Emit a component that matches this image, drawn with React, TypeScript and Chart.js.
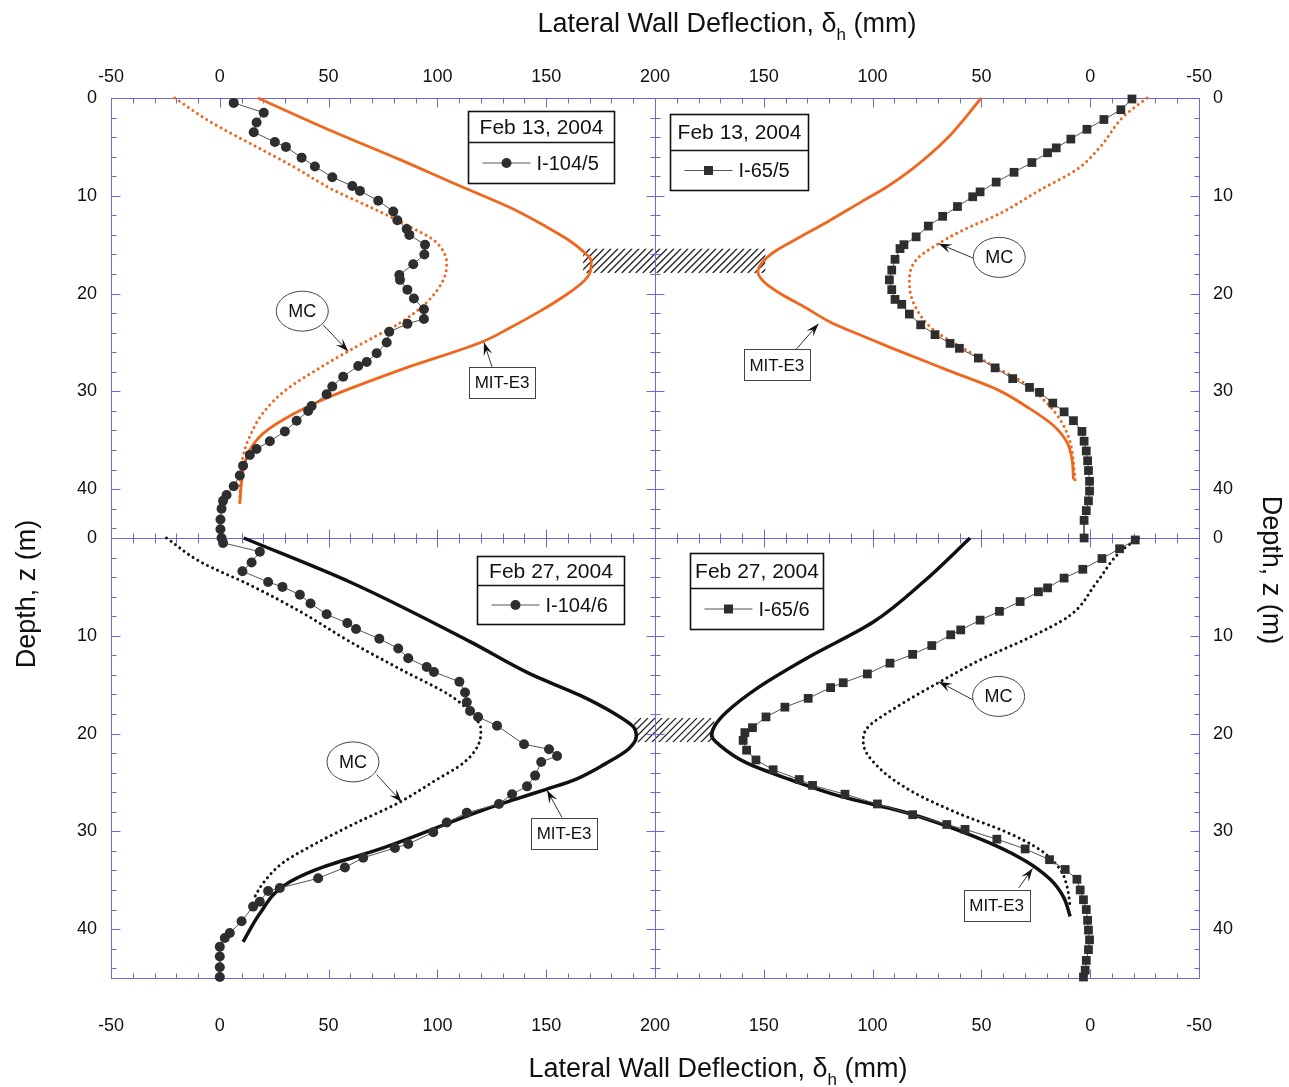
import React, { useEffect, useRef } from "react";
import { Chart, registerables } from "chart.js";
Chart.register(...registerables);

// ---------- axis ticks ----------
const X_TICK_VALUES = [-50, 0, 50, 100, 150, 200, 250, 300, 350, 400, 450];
const X_TICK_LABELS = ["-50", "0", "50", "100", "150", "200", "150", "100", "50", "0", "-50"];
const Y_TICK_VALUES = [0, 10, 20, 30, 40, 45, 55, 65, 75, 85];
const Y_TICK_LABELS = ["0", "10", "20", "30", "40", "0", "10", "20", "30", "40"];

// ---------- Feb 13, 2004 – I-104/5 (left, top) ----------
const I104_5_z = [0.5, 1.5, 2.5, 3.5, 4.5, 5.0, 6.1, 7.0, 8.1, 9.0, 9.5, 10.5, 11.6, 12.5, 13.4, 14.0, 15.0, 16.0, 17.0, 18.1, 18.6, 19.6, 20.5, 21.6, 22.6, 23.1, 23.9, 25.0, 26.1, 27.0, 27.4, 28.5, 29.5, 30.3, 31.5, 32.0, 33.0, 34.1, 35.1, 35.9, 36.5, 37.6, 38.6, 39.7, 40.6, 41.2, 42.0, 43.1, 44.1, 45.0];
const I104_5_d = [6.4, 20.2, 16.9, 15.6, 25.3, 30.4, 37.6, 43.7, 51.7, 60.9, 64.4, 72.8, 79.7, 81.6, 85.9, 87.1, 94.3, 94.0, 88.9, 82.5, 82.8, 86.2, 89.2, 93.8, 93.8, 86.2, 77.9, 76.7, 72.1, 67.5, 63.6, 56.7, 51.7, 49.1, 42.2, 40.6, 35.3, 29.9, 23.0, 16.9, 13.8, 10.7, 9.2, 6.4, 3.1, 1.5, 0.8, 0.3, 0.3, 0.8];
const MC_TL_z = [0, 2.4, 5.0, 7.0, 9.4, 11.3, 13.0, 14.5, 15.8, 16.9, 18.6, 20.9, 23.0, 24.5, 25.9, 27.8, 29.8, 32.2, 34.6, 36.6, 38.6, 41.5];
const MC_TL_d = [-20.7, -4.6, 16.9, 33.7, 52.1, 70.5, 85.9, 98.1, 103.0, 104.3, 102.7, 95.1, 82.8, 70.5, 59.0, 44.5, 30.7, 19.9, 13.8, 10.7, 9.5, 9.2];
const MIT_TL_z = [0, 3.3, 6.3, 9.0, 11.2, 13.1, 14.5, 15.7, 16.7, 17.8, 18.9, 20.2, 21.8, 23.5, 24.9, 27.8, 30.6, 32.3, 34.2, 35.7, 37.3, 39.3, 41.5];
const MIT_TL_d = [17.5, 50.6, 82.8, 110.4, 133.4, 149.5, 160.1, 167.0, 170.7, 170.2, 166.5, 158.7, 147.2, 133.4, 121.0, 83.0, 50.0, 34.0, 20.5, 14.6, 11.5, 10.0, 9.2];

// ---------- Feb 13, 2004 – I-65/5 (right, top) ----------
const I65_5_z = [0.1, 1.2, 2.2, 3.2, 4.2, 5.1, 5.6, 6.6, 7.6, 8.6, 9.6, 10.1, 11.1, 12.1, 13.1, 14.2, 15.0, 15.4, 16.5, 17.6, 18.6, 19.6, 20.6, 21.1, 22.1, 23.2, 24.2, 25.1, 25.6, 26.6, 27.6, 28.7, 29.6, 30.1, 31.2, 32.1, 33.0, 34.1, 35.1, 36.1, 37.1, 38.1, 39.2, 40.2, 41.2, 42.2, 43.2, 45.0];
const I65_5_d = [-19.2, -14.1, -6.3, 1.5, 8.9, 15.6, 19.6, 26.8, 35.0, 43.2, 50.6, 54.0, 61.0, 67.8, 74.4, 80.0, 85.6, 87.4, 89.7, 91.2, 92.3, 91.2, 89.7, 86.6, 83.1, 77.9, 71.3, 64.4, 60.1, 51.4, 43.7, 35.6, 27.9, 23.3, 17.2, 12.0, 7.7, 3.8, 2.8, 1.8, 1.2, 0.8, 0.3, 0.3, 0.8, 1.8, 2.8, 2.8];
const MC_TR_z = [0, 1.9, 5.0, 7.3, 9.4, 11.8, 13.5, 15.0, 16.5, 18.6, 20.9, 23.7, 25.4, 27.4, 29.1, 31.2, 33.2, 35.2, 37.3, 39.2];
const MC_TR_d = [-26.1, -15.3, -4.6, 6.1, 23.0, 41.4, 58.3, 70.5, 79.7, 83.1, 81.3, 72.1, 59.8, 44.5, 30.7, 19.9, 13.0, 9.2, 7.7, 6.9];
const MIT_TR_z = [0, 4.3, 7.3, 9.1, 10.6, 12.7, 14.3, 15.7, 16.9, 17.8, 18.9, 20.1, 21.4, 22.9, 24.4, 25.5, 27.8, 29.8, 31.8, 33.5, 35.2, 36.9, 39.0];
const MIT_TR_d = [50.0, 66.5, 82.0, 93.5, 105.0, 121.0, 134.0, 145.0, 151.0, 152.7, 149.5, 141.7, 131.1, 119.6, 104.0, 92.0, 65.9, 42.9, 27.6, 16.9, 10.7, 8.4, 7.7];

// ---------- Feb 27, 2004 – I-104/6 (left, bottom) ----------
const I104_6_z = [0.5, 1.4, 2.5, 3.4, 4.5, 5.0, 5.8, 6.7, 7.8, 8.7, 9.3, 10.3, 11.3, 12.3, 13.2, 13.7, 14.7, 15.8, 16.8, 17.7, 18.3, 19.2, 21.1, 21.6, 22.3, 22.9, 24.3, 25.4, 26.2, 27.2, 28.1, 29.1, 30.1, 31.3, 31.7, 32.7, 33.7, 34.8, 35.8, 36.1, 37.2, 37.7, 39.2, 40.4, 40.9, 41.8, 42.8, 43.9, 44.9];
const I104_6_d = [1.5, 18.4, 14.6, 10.4, 22.2, 28.8, 36.8, 41.7, 49.1, 58.6, 62.6, 73.3, 82.0, 86.6, 95.1, 98.4, 110.1, 112.7, 113.5, 115.0, 118.7, 127.4, 139.8, 151.3, 155.0, 147.7, 144.9, 141.2, 134.3, 128.3, 113.5, 104.3, 98.1, 86.6, 80.5, 65.9, 57.5, 45.2, 27.6, 22.2, 18.4, 15.3, 10.0, 4.6, 2.3, 0, 0, 0, 0];
const MC_BL_z = [0, 2.4, 4.8, 7.5, 10.6, 13.4, 16.1, 17.8, 19.6, 21.3, 23.0, 24.8, 27.1, 29.1, 31.2, 33.2, 35.3, 37.0];
const MC_BL_d = [-24.5, -9.2, 13.8, 36.8, 59.8, 82.8, 105.8, 115.0, 120.0, 118.5, 112.0, 99.0, 82.0, 63.0, 44.5, 29.1, 19.9, 15.3];
const MIT_BL_z = [0, 4.5, 10.6, 13.9, 16.1, 18.0, 19.3, 20.3, 21.6, 23.1, 24.7, 25.7, 26.7, 27.9, 31.7, 33.9, 35.6, 38.4, 41.3];
const MIT_BL_d = [11.0, 59.8, 115.0, 142.6, 165.6, 181.7, 190.0, 191.4, 187.7, 177.1, 163.3, 150.0, 136.0, 120.0, 75.1, 44.5, 29.1, 18.4, 10.7];

// ---------- Feb 27, 2004 – I-65/6 (right, bottom) ----------
const I65_6_z = [0.2, 1.1, 2.1, 3.2, 4.1, 5.1, 5.5, 6.5, 7.5, 8.4, 9.4, 9.9, 11.0, 11.9, 12.8, 13.9, 14.8, 15.3, 16.4, 17.3, 18.3, 19.4, 19.9, 20.7, 21.7, 22.7, 23.7, 24.7, 25.3, 26.2, 27.2, 28.3, 29.3, 29.8, 30.8, 31.8, 32.9, 33.9, 34.9, 36.0, 37.0, 38.0, 39.1, 40.1, 41.1, 42.1, 43.2, 44.2, 44.9];
const I65_6_d = [-20.7, -13.5, -5.4, 3.4, 12.0, 19.6, 23.8, 32.2, 41.7, 50.6, 59.5, 64.1, 72.8, 81.6, 92.0, 102.4, 113.5, 119.3, 129.6, 140.3, 149.0, 155.2, 158.7, 159.5, 157.9, 153.6, 145.7, 133.7, 127.6, 112.7, 97.8, 81.6, 65.9, 57.5, 42.9, 29.9, 18.7, 11.5, 6.1, 4.6, 3.1, 1.8, 1.2, 0.8, 0.3, 0.8, 1.8, 2.3, 3.1];
const MC_BR_z = [0, 1.4, 4.5, 7.9, 10.3, 12.3, 14.7, 17.5, 19.5, 20.9, 23.6, 26.0, 28.1, 30.1, 31.9, 33.9, 35.6, 37.7];
const MC_BR_d = [-22.2, -13.8, -3.1, 9.2, 29.1, 49.1, 69.0, 90.5, 102.7, 104.3, 96.6, 81.3, 61.3, 38.3, 23.0, 13.8, 10.7, 9.2];
const MIT_BR_z = [0, 4.5, 8.6, 12.3, 15.4, 17.8, 19.2, 20.2, 21.2, 23.0, 24.7, 26.4, 28.1, 30.5, 32.9, 34.9, 36.7, 38.7];
const MIT_BR_d = [55.2, 76.7, 99.7, 130.3, 153.3, 167.1, 172.5, 174.0, 170.2, 157.9, 138.0, 115.0, 84.3, 53.7, 30.7, 18.4, 12.3, 9.2];

// ---------- excavation level hatch (u = combined x, v = combined depth) ----------
const HATCH_U0 = [167, 190.4];
const HATCH_U1 = [250.7, 227.2];
const HATCH_V0 = [15.4, 63.4];
const HATCH_V1 = [17.9, 65.9];

// panel frame split
const SPLIT_U = 200;
const SPLIT_V = 45;

const FONT = "'Liberation Sans', Arial, Helvetica, sans-serif";
const FRAME = "#6a6ad4";
const ORANGE = "#f0661c";

// maps a panel value to the combined plot coordinates
function pts(d: number[], z: number[], right: boolean, bottom: boolean) {
  return d.map((dv, i) => ({ x: right ? 2 * SPLIT_U - dv : dv, y: z[i] + (bottom ? SPLIT_V : 0) }));
}

function obsSet(data: any, style: string) {
  return {
    data, indexAxis: "y", borderColor: "#555", borderWidth: 1, backgroundColor: "#2e2e2e",
    pointBackgroundColor: "#2e2e2e", pointBorderColor: "#2e2e2e", pointBorderWidth: 0,
    pointStyle: style, pointRadius: style === "rect" ? 6.2 : 5, tension: 0, clip: false, order: 1, fill: false,
  };
}
function mcSet(data: any, color: string) {
  return {
    data, indexAxis: "y", borderColor: color, borderWidth: 3, borderDash: [0.01, 5.5],
    borderCapStyle: "round", pointRadius: 0, cubicInterpolationMode: "monotone", clip: false, order: 2, fill: false,
  };
}
function mitSet(data: any, color: string, w: number) {
  return {
    data, indexAxis: "y", borderColor: color, borderWidth: w, pointRadius: 0,
    cubicInterpolationMode: "monotone", clip: false, order: 3, fill: false,
  };
}

// annotation placements (combined coords)
const MC_NOTES = [
  { u: 37.9, v: 21.8, fu: 47.5, fv: 23.2, tu: 59.0, tv: 25.9 },
  { u: 358.2, v: 16.3, fu: 346.5, fv: 16.4, tu: 330.4, tv: 14.9 },
  { u: 61.2, v: 67.9, fu: 72.1, fv: 69.2, tu: 83.6, tv: 72.0 },
  { u: 357.9, v: 61.2, fu: 346.5, fv: 61.6, tu: 330.4, tv: 59.7 },
];
const MIT_NOTES = [
  { u: 129.7, v: 29.1, fu: 125.1, fv: 27.5, tu: 121.4, tv: 25.0 },
  { u: 256.0, v: 27.3, fu: 264.5, fv: 25.8, tu: 275.1, tv: 23.1 },
  { u: 158.2, v: 75.2, fu: 157.3, fv: 73.6, tu: 150.4, tv: 70.8 },
  { u: 357.0, v: 82.6, fu: 367.1, fv: 80.8, tu: 373.5, tv: 78.8 },
];
const LEGEND_TITLES = ["Feb 13, 2004", "Feb 13, 2004", "Feb 27, 2004", "Feb 27, 2004"];
const LEGEND_ITEMS = ["I-104/5", "I-65/5", "I-104/6", "I-65/6"];
const LEGEND_BOX = [
  { u: 114.1, v: 1.33, w: 146, h: 72, hh: 31, marker: "circle" },
  { u: 207.0, v: 1.64, w: 138, h: 76, hh: 36, marker: "rect" },
  { u: 118.2, v: 46.8, w: 147, h: 68, hh: 29, marker: "circle" },
  { u: 216.2, v: 46.5, w: 133, h: 76, hh: 35, marker: "rect" },
];

function seg(ctx: CanvasRenderingContext2D, x0: number, y0: number, x1: number, y1: number) {
  ctx.beginPath(); ctx.moveTo(x0, y0); ctx.lineTo(x1, y1); ctx.stroke();
}
function arrow(ctx: CanvasRenderingContext2D, x0: number, y0: number, x1: number, y1: number) {
  ctx.strokeStyle = "#333"; ctx.lineWidth = 1;
  seg(ctx, x0, y0, x1, y1);
  const a = Math.atan2(y1 - y0, x1 - x0);
  const L = 13, W = 4.5;
  ctx.fillStyle = "#111";
  ctx.beginPath();
  ctx.moveTo(x1, y1);
  ctx.lineTo(x1 - L * Math.cos(a) + W * Math.sin(a), y1 - L * Math.sin(a) - W * Math.cos(a));
  ctx.lineTo(x1 - 0.6 * L * Math.cos(a), y1 - 0.6 * L * Math.sin(a));
  ctx.lineTo(x1 - L * Math.cos(a) - W * Math.sin(a), y1 - L * Math.sin(a) + W * Math.cos(a));
  ctx.closePath(); ctx.fill();
}

const framePlugin = {
  id: "frameAndHatch",
  beforeDatasetsDraw(chart: any) {
    const ctx: CanvasRenderingContext2D = chart.ctx;
    const xs = chart.scales.x, ys = chart.scales.y;
    const { left, right, top, bottom } = chart.chartArea;
    const r = (p: number) => Math.round(p) + 0.5;
    const midX = r(xs.getPixelForValue(SPLIT_U));
    const midY = r(ys.getPixelForValue(SPLIT_V));
    ctx.save();
    for (let k = 0; k < HATCH_U0.length; k++) {
      const x0 = xs.getPixelForValue(HATCH_U0[k]), x1 = xs.getPixelForValue(HATCH_U1[k]);
      const y0 = ys.getPixelForValue(HATCH_V0[k]), y1 = ys.getPixelForValue(HATCH_V1[k]);
      ctx.save();
      ctx.beginPath(); ctx.rect(x0, y0, x1 - x0, y1 - y0); ctx.clip();
      ctx.strokeStyle = "#222"; ctx.lineWidth = 1.3;
      const h = y1 - y0;
      for (let x = x0 - h; x < x1 + h; x += 7) seg(ctx, x, y1, x + h, y0);
      ctx.restore();
    }
    ctx.strokeStyle = FRAME; ctx.lineWidth = 1;
    const L0 = r(left), R0 = r(right), T0 = r(top), B0 = r(bottom);
    ctx.strokeRect(L0, T0, R0 - L0, B0 - T0);
    seg(ctx, midX, T0, midX, B0);
    seg(ctx, L0, midY, R0, midY);
    for (let u = -50; u <= 450; u += 10) {
      const px = r(xs.getPixelForValue(u));
      const L = (u + 50) % 50 === 0 ? 9 : 5;
      seg(ctx, px, T0, px, T0 + L);
      seg(ctx, px, B0, px, B0 - L);
      seg(ctx, px, midY - L, px, midY + L);
    }
    for (const base of [0, SPLIT_V]) {
      for (let z = 0; z <= 44; z += 2) {
        const py = r(ys.getPixelForValue(base + z));
        const L = z % 10 === 0 ? 9 : 5;
        seg(ctx, L0, py, L0 + L, py);
        seg(ctx, R0 - L, py, R0, py);
        seg(ctx, midX - L, py, midX + L, py);
      }
    }
    ctx.restore();
  },
  afterDatasetsDraw(chart: any) {
    const ctx: CanvasRenderingContext2D = chart.ctx;
    const xs = chart.scales.x, ys = chart.scales.y;
    const X = (u: number) => xs.getPixelForValue(u);
    const Y = (v: number) => ys.getPixelForValue(v);
    ctx.save();
    ctx.textAlign = "center"; ctx.textBaseline = "middle";
    for (const n of MC_NOTES) {
      arrow(ctx, X(n.fu), Y(n.fv), X(n.tu), Y(n.tv));
      ctx.beginPath(); ctx.ellipse(X(n.u), Y(n.v), 26, 20, 0, 0, Math.PI * 2);
      ctx.fillStyle = "#fff"; ctx.fill();
      ctx.strokeStyle = "#444"; ctx.lineWidth = 1; ctx.stroke();
      ctx.fillStyle = "#111"; ctx.font = `18px ${FONT}`;
      ctx.fillText("MC", X(n.u), Y(n.v) + 1);
    }
    for (const n of MIT_NOTES) {
      arrow(ctx, X(n.fu), Y(n.fv), X(n.tu), Y(n.tv));
      const cx = X(n.u), cy = Y(n.v);
      ctx.fillStyle = "#fff"; ctx.fillRect(cx - 33, cy - 15.5, 66, 31);
      ctx.strokeStyle = "#444"; ctx.lineWidth = 1; ctx.strokeRect(Math.round(cx - 33) + 0.5, Math.round(cy - 15.5) + 0.5, 66, 31);
      ctx.fillStyle = "#111"; ctx.font = `17px ${FONT}`;
      ctx.fillText("MIT-E3", cx, cy + 1);
    }
    LEGEND_BOX.forEach((b, i) => {
      const x = Math.round(X(b.u)) + 0.5, y = Math.round(Y(b.v)) + 0.5;
      ctx.fillStyle = "#fff"; ctx.fillRect(x, y, b.w, b.h);
      ctx.strokeStyle = "#111"; ctx.lineWidth = 1.6;
      ctx.strokeRect(x, y, b.w, b.h);
      seg(ctx, x, y + b.hh, x + b.w, y + b.hh);
      ctx.fillStyle = "#111"; ctx.font = `21px ${FONT}`; ctx.textAlign = "center";
      ctx.fillText(LEGEND_TITLES[i], x + b.w / 2, y + b.hh / 2 + 1);
      const ly = y + b.hh + (b.h - b.hh) / 2;
      ctx.strokeStyle = "#555"; ctx.lineWidth = 1;
      seg(ctx, x + 14, ly, x + 62, ly);
      ctx.fillStyle = "#2e2e2e";
      if (b.marker === "circle") { ctx.beginPath(); ctx.arc(x + 38, ly, 5, 0, Math.PI * 2); ctx.fill(); }
      else ctx.fillRect(x + 38 - 4.5, ly - 4.5, 9, 9);
      ctx.fillStyle = "#111"; ctx.font = `20px ${FONT}`; ctx.textAlign = "left";
      ctx.fillText(LEGEND_ITEMS[i], x + 68, ly + 1);
      ctx.textAlign = "center";
    });
    ctx.restore();
  },
  afterDraw(chart: any) {
    const ctx: CanvasRenderingContext2D = chart.ctx;
    ctx.save();
    ctx.fillStyle = "#111";
    const drawDefl = (cx: number, cy: number) => {
      const big = `27px ${FONT}`, small = `17px ${FONT}`;
      const p1 = "Lateral Wall Deflection, \u03B4", p2 = "h", p3 = " (mm)";
      ctx.font = big; const w1 = ctx.measureText(p1).width, w3 = ctx.measureText(p3).width;
      ctx.font = small; const w2 = ctx.measureText(p2).width;
      let x = cx - (w1 + w2 + w3) / 2;
      ctx.textAlign = "left"; ctx.textBaseline = "alphabetic";
      ctx.font = big; ctx.fillText(p1, x, cy + 10); x += w1;
      ctx.font = small; ctx.fillText(p2, x, cy + 18); x += w2;
      ctx.font = big; ctx.fillText(p3, x, cy + 10);
    };
    drawDefl(727, 22);
    drawDefl(718, 1067);
    const drawDepth = (cx: number, cy: number, rot: number) => {
      ctx.save(); ctx.translate(cx, cy); ctx.rotate(rot);
      ctx.font = `27px ${FONT}`; ctx.textAlign = "center"; ctx.textBaseline = "middle";
      ctx.fillText("Depth, z (m)", 0, 0);
      ctx.restore();
    };
    drawDepth(28, 594, -Math.PI / 2);
    drawDepth(1270, 570, Math.PI / 2);
    ctx.restore();
  },
};

function xScale(position: string, pad: number, h: number) {
  return {
    type: "linear", position, min: -50, max: 450,
    grid: { display: false, drawTicks: false }, border: { display: false },
    afterBuildTicks: (s: any) => { s.ticks = X_TICK_VALUES.map((v) => ({ value: v })); },
    afterFit: (s: any) => { s.height = h; },
    ticks: {
      autoSkip: false, maxRotation: 0, padding: pad, color: "#111",
      font: { size: 18, family: FONT },
      callback: (_v: any, i: number) => X_TICK_LABELS[i],
    },
  };
}
function yScale(position: string, w: number) {
  return {
    type: "linear", position, min: 0, max: 90, reverse: true,
    grid: { display: false, drawTicks: false }, border: { display: false },
    afterBuildTicks: (s: any) => { s.ticks = Y_TICK_VALUES.map((v) => ({ value: v })); },
    afterFit: (s: any) => { s.width = w; },
    ticks: {
      autoSkip: false, padding: 14, color: "#111",
      font: { size: 18, family: FONT },
      callback: (_v: any, i: number) => Y_TICK_LABELS[i],
    },
  };
}

export default function App() {
  const ref = useRef<HTMLCanvasElement>(null);
  useEffect(() => {
    const datasets: any[] = [
      mitSet(pts(MIT_TL_d, MIT_TL_z, false, false), ORANGE, 2.8),
      mcSet(pts(MC_TL_d, MC_TL_z, false, false), ORANGE),
      obsSet(pts(I104_5_d, I104_5_z, false, false), "circle"),
      mitSet(pts(MIT_TR_d, MIT_TR_z, true, false), ORANGE, 2.8),
      mcSet(pts(MC_TR_d, MC_TR_z, true, false), ORANGE),
      obsSet(pts(I65_5_d, I65_5_z, true, false), "rect"),
      mitSet(pts(MIT_BL_d, MIT_BL_z, false, true), "#111", 3.5),
      mcSet(pts(MC_BL_d, MC_BL_z, false, true), "#111"),
      obsSet(pts(I104_6_d, I104_6_z, false, true), "circle"),
      mitSet(pts(MIT_BR_d, MIT_BR_z, true, true), "#111", 3.5),
      mcSet(pts(MC_BR_d, MC_BR_z, true, true), "#111"),
      obsSet(pts(I65_6_d, I65_6_z, true, true), "rect"),
    ];
    const chart = new Chart(ref.current as HTMLCanvasElement, {
      type: "line",
      data: { datasets },
      options: {
        responsive: false,
        animation: false,
        layout: { padding: 0 },
        plugins: { legend: { display: false }, tooltip: { enabled: false } },
        scales: {
          x: xScale("bottom", 37, 109),
          xTop: xScale("top", 10, 98),
          y: yScale("left", 111),
          yRight: yScale("right", 90),
        } as any,
      },
      plugins: [framePlugin as any],
    } as any);
    return () => chart.destroy();
  }, []);
  return (
    <div style={{ position: "absolute", left: 0, top: 0, width: 1289, height: 1087, background: "#fff" }}>
      <canvas ref={ref} width={1289} height={1087} style={{ display: "block" }} />
    </div>
  );
}
